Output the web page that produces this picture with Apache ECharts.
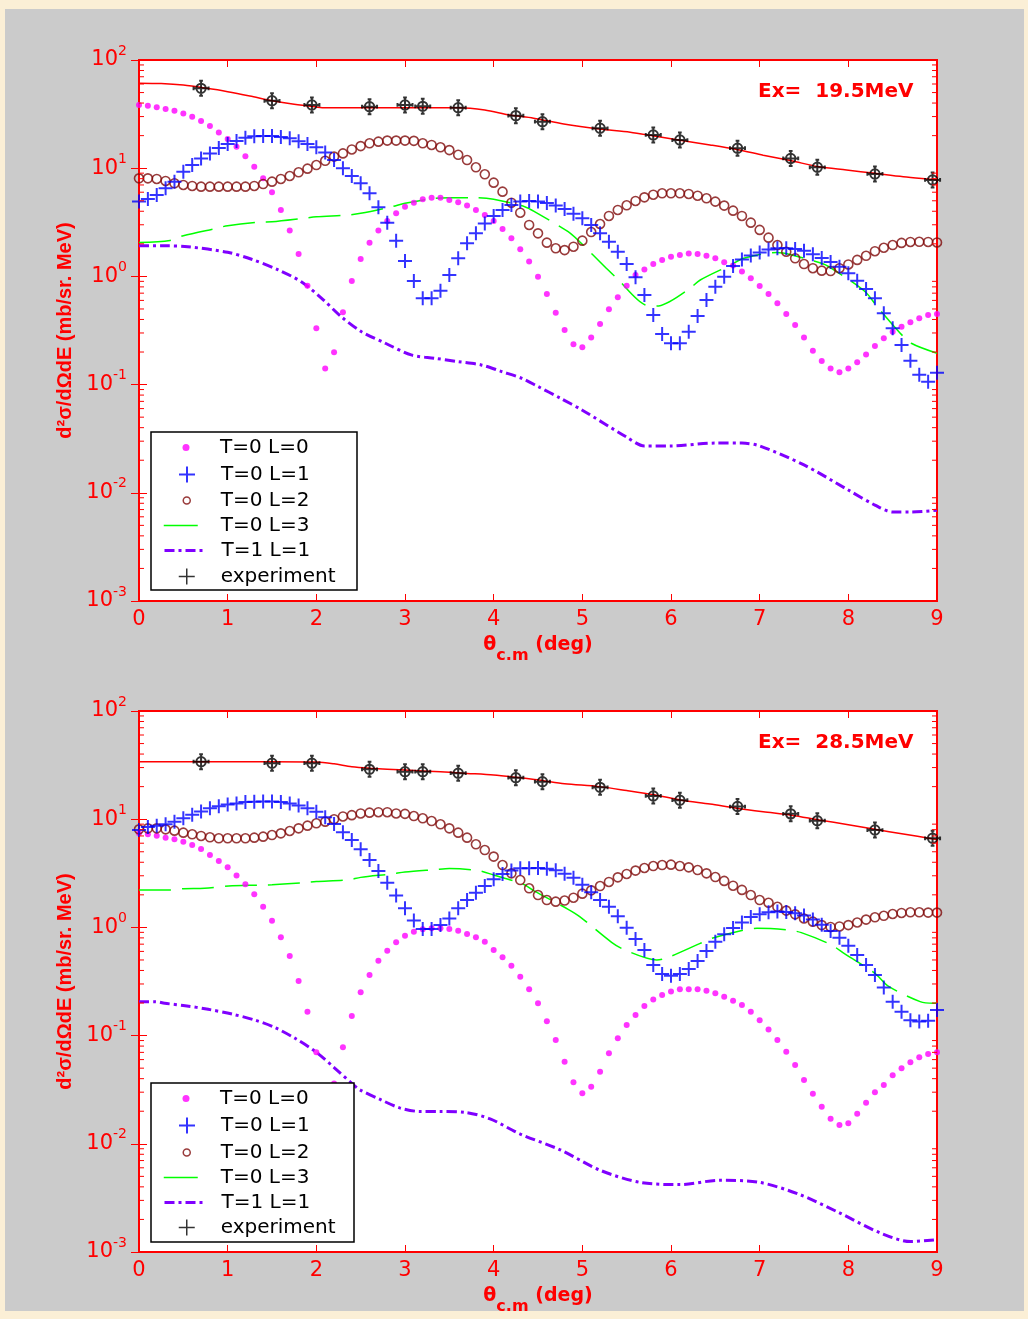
<!DOCTYPE html>
<html><head><meta charset="utf-8">
<script src="https://cdn.jsdelivr.net/npm/echarts@6/dist/echarts.min.js"></script>
<style>html,body{margin:0;padding:0;background:#fbefd6;} #c{width:1028px;height:1319px;}</style>
</head><body><div id="c"></div>
<script>
// ---------- data ----------
const ANGLES = [0,0.1,0.2,0.3,0.4,0.5,0.6,0.7,0.8,0.9,1,1.1,1.2,1.3,1.4,1.5,1.6,1.7,1.8,1.9,2,2.1,2.2,2.3,2.4,2.5,2.6,2.7,2.8,2.9,3,3.1,3.2,3.3,3.4,3.5,3.6,3.7,3.8,3.9,4,4.1,4.2,4.3,4.4,4.5,4.6,4.7,4.8,4.9,5,5.1,5.2,5.3,5.4,5.5,5.6,5.7,5.8,5.9,6,6.1,6.2,6.3,6.4,6.5,6.6,6.7,6.8,6.9,7,7.1,7.2,7.3,7.4,7.5,7.6,7.7,7.8,7.9,8,8.1,8.2,8.3,8.4,8.5,8.6,8.7,8.8,8.9,9];
const X_TICKS = [0,1,2,3,4,5,6,7,8,9];
const Y_DECADES = [0.001,0.01,0.1,1,10,100];
const MINOR_MULT = [2,3,4,5,6,7,8,9];
const LEGEND_NAMES = ['T=0 L=0','T=0 L=1','T=0 L=2','T=0 L=3','T=1 L=1','experiment'];
const PANEL_TITLES = ['Ex=  19.5MeV','Ex=  28.5MeV'];

// Ex = 19.5 MeV (top)
const T0L0_A = [38.4,37.8,36.5,35.3,34.0,32.1,29.9,27.3,24.5,21.4,18.6,15.8,12.9,10.3,8.06,5.98,4.11,2.65,1.61,0.821,0.331,0.141,0.199,0.466,0.907,1.45,2.05,2.65,3.25,3.83,4.41,4.80,5.16,5.34,5.34,5.08,4.84,4.51,4.11,3.69,3.25,2.74,2.25,1.78,1.37,0.99,0.688,0.462,0.320,0.236,0.221,0.272,0.363,0.496,0.641,0.821,1.03,1.16,1.30,1.42,1.52,1.58,1.63,1.61,1.55,1.47,1.35,1.26,1.11,0.96,0.815,0.688,0.564,0.449,0.356,0.272,0.206,0.165,0.141,0.130,0.141,0.161,0.190,0.227,0.268,0.308,0.343,0.376,0.410,0.440,0.449];
const T0L1_A = [4.91,5.19,5.65,6.52,7.51,9.29,10.7,12.3,13.7,15.4,16.7,17.8,19.1,19.7,19.8,19.8,19.4,18.9,17.7,16.7,15.6,14.0,11.9,9.97,8.47,7.25,5.86,4.35,3.14,2.14,1.39,0.907,0.627,0.627,0.738,1.03,1.47,2.02,2.50,3.09,3.62,4.11,4.57,4.91,4.98,4.91,4.77,4.51,4.20,3.80,3.45,2.99,2.50,2.09,1.69,1.30,0.980,0.673,0.440,0.294,0.241,0.241,0.308,0.431,0.605,0.804,0.994,1.25,1.43,1.56,1.66,1.77,1.82,1.82,1.79,1.73,1.60,1.48,1.36,1.23,1.07,0.913,0.765,0.627,0.456,0.331,0.232,0.166,0.123,0.106,0.129];
const T0L2_A = [8.06,8.06,7.95,7.62,7.25,7.00,6.85,6.75,6.75,6.75,6.75,6.75,6.75,6.85,7.14,7.51,7.95,8.47,9.16,9.90,10.7,11.7,12.8,13.7,14.9,16.0,17.0,17.6,18.0,18.0,18.0,17.9,17.0,16.4,15.6,14.7,13.3,11.9,10.2,8.78,7.35,6.07,4.80,3.88,2.99,2.50,2.05,1.82,1.75,1.88,2.14,2.57,3.05,3.62,4.11,4.54,4.98,5.38,5.69,5.86,5.86,5.86,5.78,5.57,5.27,4.91,4.51,4.05,3.62,3.14,2.69,2.28,1.95,1.69,1.47,1.30,1.19,1.13,1.12,1.19,1.29,1.42,1.55,1.71,1.84,1.95,2.04,2.08,2.09,2.08,2.06];
const T0L3_A_X = [0,0.35,0.5,0.87,1.0,1.37,1.5,1.85,2.0,2.36,2.5,2.85,3.0,3.34,3.5,3.8,4.0,4.35,4.48,4.84,4.97,5.27,5.39,5.71,5.84,6.19,6.33,6.67,6.82,7.19,7.36,7.72,7.85,8.19,8.32,8.58,8.71,9.0];
const T0L3_A_Y = [2.06,2.15,2.38,2.78,2.94,3.18,3.20,3.44,3.56,3.69,3.83,4.41,4.74,5.27,5.34,5.34,5.16,4.41,3.88,2.59,2.09,1.19,0.96,0.544,0.532,0.749,0.926,1.27,1.47,1.66,1.58,1.30,1.13,0.722,0.532,0.302,0.241,0.195];
const T1L1_A_X = [0,0.3,0.55,1.0,1.27,1.57,1.83,2.06,2.28,2.51,2.78,3.07,3.34,3.6,3.86,4.09,4.32,4.5,4.75,5.0,5.5,5.7,6.0,6.5,6.8,7.0,7.5,8.0,8.3,8.5,8.7,9.0];
const T1L1_A_Y = [1.92,1.92,1.88,1.67,1.44,1.15,0.893,0.628,0.425,0.308,0.241,0.188,0.175,0.163,0.152,0.132,0.114,0.096,0.075,0.058,0.0327,0.0271,0.0271,0.0288,0.0288,0.0271,0.0181,0.0106,0.0077,0.00665,0.00665,0.0069];
const FIT_A_X = [0,0.25,0.5,0.75,1.0,1.25,1.5,1.75,2.0,2.1,2.5,3.0,3.6,3.9,4.18,4.45,4.79,5.19,5.54,5.81,6.12,6.44,6.74,7.04,7.36,7.67,7.98,8.30,8.62,8.94,9.0];
const FIT_A_Y = [61,60.5,58.6,55,51,46.5,42,38.9,36.8,36.2,36.2,36.2,36.2,34.5,31.0,29.0,25.6,23.0,21.5,19.8,18.0,16.4,14.9,13.2,11.7,10.3,9.63,8.97,8.35,7.89,7.8];
const EXP_X = [0.7,1.5,1.95,2.6,3.0,3.2,3.6,4.25,4.55,5.2,5.8,6.1,6.75,7.35,7.65,8.3,8.95];
const EXP_A = [54.7,42.0,38.4,37.0,38.4,37.3,36.2,30.6,26.9,23.4,20.3,18.2,15.3,12.3,10.2,8.84,7.78];

// Ex = 28.5 MeV (bottom)
const T0L0_B = [7.40,7.25,7.04,6.75,6.52,6.20,5.78,5.30,4.67,4.11,3.59,3.01,2.50,2.02,1.55,1.15,0.810,0.544,0.320,0.166,0.070,0.028,0.036,0.078,0.152,0.251,0.363,0.493,0.610,0.728,0.839,0.913,0.960,0.980,0.980,0.966,0.933,0.869,0.810,0.738,0.618,0.529,0.443,0.350,0.268,0.199,0.136,0.091,0.0574,0.037,0.0293,0.0337,0.0464,0.0686,0.0944,0.125,0.155,0.188,0.216,0.237,0.255,0.268,0.268,0.268,0.260,0.246,0.229,0.210,0.192,0.166,0.139,0.114,0.091,0.071,0.0535,0.0389,0.029,0.022,0.017,0.0149,0.0155,0.019,0.024,0.030,0.035,0.043,0.0499,0.0566,0.0630,0.0676,0.0701];
const T0L1_B = [7.94,8.47,8.72,8.97,9.49,10.2,11.0,11.8,12.6,13.2,13.7,14.0,14.4,14.5,14.6,14.6,14.4,14.0,13.4,12.6,11.7,10.4,9.03,7.56,6.43,5.27,4.20,3.32,2.59,1.97,1.50,1.16,0.966,0.966,1.05,1.21,1.50,1.79,2.09,2.41,2.78,3.12,3.35,3.52,3.52,3.54,3.49,3.37,3.14,2.88,2.48,2.11,1.79,1.55,1.27,0.994,0.781,0.618,0.449,0.371,0.358,0.371,0.413,0.489,0.605,0.738,0.863,0.987,1.11,1.25,1.32,1.38,1.40,1.39,1.35,1.29,1.18,1.06,0.926,0.804,0.678,0.556,0.449,0.363,0.279,0.206,0.166,0.139,0.135,0.137,0.172];
const T0L2_B = [8.06,8.23,8.23,8.06,7.84,7.51,7.25,7.00,6.80,6.66,6.66,6.66,6.66,6.75,6.90,7.14,7.40,7.78,8.23,8.72,9.16,9.49,10.0,10.6,10.9,11.3,11.5,11.6,11.6,11.3,11.2,10.7,10.2,9.62,8.97,8.23,7.51,6.75,5.86,5.19,4.51,3.77,3.16,2.74,2.30,1.99,1.79,1.73,1.77,1.88,2.05,2.20,2.41,2.63,2.90,3.12,3.35,3.54,3.69,3.77,3.80,3.69,3.59,3.39,3.16,2.92,2.69,2.43,2.22,1.99,1.79,1.69,1.55,1.43,1.32,1.21,1.13,1.05,1.01,1.02,1.05,1.11,1.18,1.24,1.28,1.33,1.36,1.38,1.38,1.37,1.37];
const T0L3_B_X = [0,0.35,0.5,0.74,1.01,1.36,1.5,1.85,2.0,2.36,2.5,2.85,3.0,3.34,3.5,3.83,4.0,4.33,4.45,4.84,4.97,5.33,5.48,5.84,5.97,6.33,6.46,6.82,6.97,7.32,7.47,7.81,7.96,8.30,8.45,8.81,8.96,9.0];
const T0L3_B_Y = [2.22,2.22,2.28,2.30,2.41,2.46,2.48,2.59,2.65,2.75,2.90,3.12,3.25,3.42,3.50,3.35,3.05,2.52,2.19,1.47,1.26,0.728,0.618,0.500,0.529,0.712,0.792,0.946,0.980,0.946,0.894,0.688,0.568,0.376,0.287,0.206,0.199,0.2];
const T1L1_B_X = [0,0.18,0.29,0.52,0.78,1.05,1.31,1.53,1.76,1.99,2.21,2.4,2.49,2.72,2.94,3.17,3.39,3.68,3.96,4.3,4.75,5.2,5.65,6.1,6.55,7.0,7.45,7.9,8.36,8.7,9.0];
const T1L1_B_Y = [0.206,0.206,0.199,0.189,0.175,0.158,0.139,0.119,0.0944,0.0711,0.0499,0.0362,0.0316,0.0257,0.0215,0.0199,0.0199,0.0195,0.017,0.0123,0.0088,0.0057,0.0044,0.0042,0.0046,0.0044,0.0034,0.0023,0.0015,0.00125,0.0013];
const FIT_B_X = [0,0.5,1.0,1.5,2.0,2.2,2.4,2.6,3.0,3.4,3.7,4.0,4.25,4.46,4.56,4.8,5.19,5.5,5.81,6.12,6.44,6.74,7.04,7.36,7.67,8.0,8.30,8.62,8.94,9.0];
const FIT_B_Y = [34.0,34.0,34.0,34.0,33.8,32.5,30.5,29.6,28.5,27.4,26.5,25.6,24.4,23.3,22.7,21.3,20.0,18.4,16.8,15.0,13.8,12.6,11.7,10.9,9.84,8.9,8.06,7.3,6.61,6.5];
const EXP_B = [34.0,32.9,32.9,28.9,27.5,27.5,26.6,24.2,22.2,19.7,16.4,15.0,13.1,11.2,9.69,7.94,6.66];

// ---------- style / layout ----------
const RED = '#ff0000';
const FONT = 'DejaVu Sans';
const PLUS = 'path://M0,6H12M6,0V12';
const EXP_SYM = 'path://M8,0V16M0,8H16M6,0H10M6,16H10M0,6V10M16,6V10M13,8A5,5,0,1,1,3,8A5,5,0,1,1,13,8';
const GRID_TOPS = [60, 711];
const LEGEND_ROWS = [[446,473,499,524,549,575],[1097,1124,1151,1176,1201,1226]];
const LEGEND_BOX = [[151,432,206,158],[151,1083,203,159]];

const zip = (xs, ys) => xs.map((x, i) => [x, ys[i]]);
const MINOR = [];
Y_DECADES.slice(0, -1).forEach(d => MINOR_MULT.forEach(m => MINOR.push(+(d * m).toPrecision(3))));

const panels = [
  {m:T0L0_A, b:T0L1_A, c:T0L2_A, gx:T0L3_A_X, gy:T0L3_A_Y, px:T1L1_A_X, py:T1L1_A_Y, fx:FIT_A_X, fy:FIT_A_Y, e:EXP_A},
  {m:T0L0_B, b:T0L1_B, c:T0L2_B, gx:T0L3_B_X, gy:T0L3_B_Y, px:T1L1_B_X, py:T1L1_B_Y, fx:FIT_B_X, fy:FIT_B_Y, e:EXP_B}
];

const grid = [], xAxis = [], yAxis = [], series = [], legend = [], graphic = [];
graphic.push({type:'rect', shape:{x:5, y:9, width:1019, height:1302}, style:{fill:'#cbcbcb'}, z:-10, silent:true});

panels.forEach((d, p) => {
  grid.push({left:139, top:GRID_TOPS[p], width:798, height:541, show:true, backgroundColor:'#ffffff', borderColor:RED, borderWidth:2});
  xAxis.push({gridIndex:p, type:'value', min:0, max:9, interval:1, position:'bottom',
    axisLine:{show:false}, splitLine:{show:false},
    axisTick:{show:true, inside:true, length:7, lineStyle:{color:RED, width:1}},
    axisLabel:{color:RED, fontFamily:FONT, fontSize:21, margin:8, formatter: v => X_TICKS.includes(v) ? String(v) : ''},
    name:'{t|θ}{s|c.m}{t| (deg)}', nameLocation:'middle', nameGap:25,
    nameTextStyle:{rich:{
      t:{fontFamily:FONT, fontWeight:'bold', fontSize:19, color:RED, lineHeight:38},
      s:{fontFamily:FONT, fontWeight:'bold', fontSize:16, color:RED, verticalAlign:'bottom'}
    }}});
  xAxis.push({gridIndex:p, type:'value', min:0, max:9, interval:1, position:'top',
    axisLine:{show:false}, splitLine:{show:false}, axisLabel:{show:false},
    axisTick:{show:true, inside:true, length:7, lineStyle:{color:RED, width:1}}});
  yAxis.push({gridIndex:p, type:'log', logBase:10, min:0.001, max:100, position:'left',
    axisLine:{show:false}, splitLine:{show:false},
    axisTick:{show:true, inside:true, length:8, lineStyle:{color:RED, width:1}},
    axisLabel:{margin:12, formatter: v => '{b|10}{e|' + Math.round(Math.log10(v)) + '}',
      rich:{b:{fontFamily:FONT, fontSize:21, color:RED, lineHeight:32},
            e:{fontFamily:FONT, fontSize:14, color:RED, verticalAlign:'top'}}},
    name:'d²σ/dΩdE (mb/sr. MeV)', nameLocation:'middle', nameGap:62, nameRotate:90,
    nameTextStyle:{fontFamily:'Liberation Sans', fontWeight:'bold', fontSize:20, color:RED}});
  yAxis.push({gridIndex:p, type:'log', logBase:10, min:0.001, max:100, position:'right',
    axisLine:{show:false}, splitLine:{show:false}, axisLabel:{show:false},
    axisTick:{show:true, inside:true, length:8, lineStyle:{color:RED, width:1}}});

  const ax = {xAxisIndex:2*p, yAxisIndex:2*p, silent:true, animation:false};
  series.push(Object.assign({type:'line', name:'T=0 L=3', data:zip(d.gx, d.gy), symbol:'none', showSymbol:false, smooth:0.3,
    lineStyle:{color:'#00ff00', width:1.5, type:[32,11]}, itemStyle:{color:'#00ff00'}, z:3}, ax));
  series.push(Object.assign({type:'line', name:'T=1 L=1', data:zip(d.px, d.py), symbol:'none', showSymbol:false, smooth:0.3,
    lineStyle:{color:'#8000ff', width:3, type:[10,4,3,4]}, itemStyle:{color:'#8000ff'}, z:3}, ax));
  series.push(Object.assign({type:'scatter', name:'T=0 L=0', data:zip(ANGLES, d.m), symbol:'circle', symbolSize:6,
    itemStyle:{color:'#ff00ff'}, z:4}, ax));
  series.push(Object.assign({type:'scatter', name:'T=0 L=2', data:zip(ANGLES, d.c), symbol:'circle', symbolSize:9,
    itemStyle:{color:'transparent', borderColor:'#7f0a0a', borderWidth:1.6}, z:4}, ax));
  series.push(Object.assign({type:'scatter', name:'T=0 L=1', data:zip(ANGLES, d.b), symbol:PLUS, symbolSize:14,
    itemStyle:{color:'transparent', borderColor:'#0000ff', borderWidth:2}, z:5}, ax));
  series.push(Object.assign({type:'line', name:'fit', data:zip(d.fx, d.fy), symbol:'none', showSymbol:false, smooth:0.3,
    lineStyle:{color:RED, width:1.5}, itemStyle:{color:RED}, z:6}, ax));
  series.push(Object.assign({type:'scatter', name:'experiment', data:zip(EXP_X, d.e), symbol:EXP_SYM, symbolSize:15,
    itemStyle:{color:'transparent', borderColor:'#000000', borderWidth:2}, z:7}, ax));
  series.push(Object.assign({type:'custom', name:'minor', data:MINOR.map(v => [0, v]), encode:{x:0, y:1}, z:8,
    renderItem:(params, api) => {
      const v = api.value(1);
      const a = api.coord([0, v]), b = api.coord([9, v]);
      return {type:'group', children:[
        {type:'line', shape:{x1:a[0], y1:a[1], x2:a[0]+5, y2:a[1]}, style:{stroke:RED, lineWidth:1}},
        {type:'line', shape:{x1:b[0]-5, y1:b[1], x2:b[0], y2:b[1]}, style:{stroke:RED, lineWidth:1}}
      ]};
    }}, ax));

  // legend box + panel label
  const bx = LEGEND_BOX[p];
  graphic.push({type:'rect', shape:{x:bx[0], y:bx[1], width:bx[2], height:bx[3]}, style:{fill:'#ffffff', stroke:'#000000', lineWidth:1.5}, z:15, silent:true});
  graphic.push({type:'text', x:758, y:GRID_TOPS[p] + 32, style:{text:PANEL_TITLES[p], fill:RED, font:'bold 20px "DejaVu Sans"', verticalAlign:'middle'}, z:15, silent:true});

  const rows = LEGEND_ROWS[p];
  const specs = [
    {w:7, h:7, left:182.5, pad:25.5, icon:'circle', itemStyle:{color:'#ff00ff', borderWidth:0}},
    {w:16, h:16, left:178, pad:21, icon:PLUS, itemStyle:{color:'transparent', borderColor:'#0000ff', borderWidth:2}},
    {w:7, h:7, left:182.5, pad:25.5, icon:'circle', itemStyle:{color:'transparent', borderColor:'#7f0a0a', borderWidth:1.5}},
    {w:34, h:14, left:163, pad:18, line:{color:'#00ff00', width:1.5, type:'solid'}},
    {w:40, h:14, left:163, pad:12, line:{color:'#8000ff', width:3, type:[10,4,3,4]}},
    {w:16, h:16, left:178, pad:21, icon:PLUS, itemStyle:{color:'transparent', borderColor:'#000000', borderWidth:1.5}}
  ];
  specs.forEach((s, k) => {
    const item = {name:LEGEND_NAMES[k]};
    if (s.icon) item.icon = s.icon;
    const lg = {data:[item], left:s.left, top:rows[k] - 8.5, padding:0, itemWidth:s.w, itemHeight:s.h,
      selectedMode:false, z:20, orient:'horizontal',
      textStyle:{fontFamily:FONT, fontSize:20, color:'#000000', padding:[0,0,0,s.pad]}};
    if (s.itemStyle) lg.itemStyle = s.itemStyle;
    if (s.line) { lg.lineStyle = s.line; lg.itemStyle = {color:'transparent', borderWidth:0, opacity:0}; }
    legend.push(lg);
  });
});

const chart = echarts.init(document.getElementById('c'), null, {renderer:'canvas'});
chart.setOption({animation:false, backgroundColor:'#fbefd6', grid, xAxis, yAxis, series, legend, graphic});
</script>
</body></html>
